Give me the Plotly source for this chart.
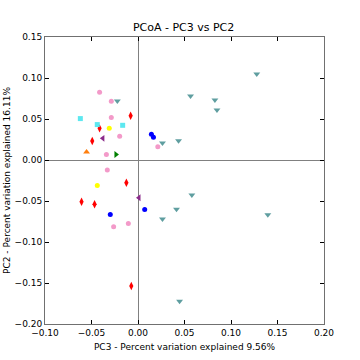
import plotly.graph_objects as go

# Groups: (x values, y values)
pink_x = [-0.0413, -0.0287, -0.0287, -0.0197, -0.0340, -0.0330, 0.0213, -0.0104, -0.0262]
pink_y = [0.0826, 0.0716, 0.0517, 0.0289, 0.0068, -0.0122, 0.0163, -0.0775, -0.0815]

teal_x = [-0.0222, 0.1277, 0.0565, 0.0827, 0.0849, 0.0263, 0.0436, 0.0579, 0.0414, 0.0263, 0.1396, 0.0447]
teal_y = [0.0720, 0.1050, 0.0782, 0.0733, 0.0611, 0.0208, 0.0236, -0.0428, -0.0600, -0.0721, -0.0669, -0.1724]

red_x = [-0.0079, -0.0413, -0.0492, -0.0125, -0.0607, -0.0467, -0.0072]
red_y = [0.0540, 0.0386, 0.0232, -0.0277, -0.0510, -0.0540, -0.1537]

cyan_x = [-0.0620, -0.0438, -0.0165]
cyan_y = [0.0505, 0.0432, 0.0423]

yellow_x = [-0.0309, -0.0438]
yellow_y = [0.0386, -0.0310]

blue_x = [0.0144, 0.0166, -0.0298, 0.0072]
blue_y = [0.0313, 0.0276, -0.0665, -0.0604]

purple_x = [-0.0378, 0.0011]
purple_y = [0.0264, -0.0460]

orange_x = [-0.0553]
orange_y = [0.0098]

green_x = [-0.0237]
green_y = [0.0068]

groups = [
    (pink_x, pink_y, "circle", "#f39ac9", 5),
    (teal_x, teal_y, "triangle-down", "#5f9ea0", 6),
    (red_x, red_y, "diamond-tall", "#ff0000", 6),
    (cyan_x, cyan_y, "square", "#5de8f0", 5),
    (yellow_x, yellow_y, "circle", "#ffff00", 5),
    (blue_x, blue_y, "circle", "#0000ff", 5),
    (purple_x, purple_y, "triangle-left", "#8b2b8b", 6),
    (orange_x, orange_y, "triangle-up", "#ff7f0e", 6),
    (green_x, green_y, "triangle-right", "#008000", 6),
]

fig = go.Figure()
for gx, gy, sym, col, sz in groups:
    fig.add_trace(go.Scatter(
        x=gx, y=gy, mode="markers",
        marker=dict(symbol=sym, color=col, size=sz, line=dict(width=0)),
        showlegend=False,
    ))

axis_common = dict(
    showgrid=False, automargin=False,
    showline=True, linecolor="#707070", linewidth=1, mirror="ticks",
    ticks="inside", ticklen=4, tickcolor="black", tickwidth=1,
    zeroline=True, zerolinecolor="#808080", zerolinewidth=1,
    tickfont=dict(family="DejaVu Sans", size=9, color="black"),
    title_font=dict(family="DejaVu Sans", size=9, color="black"),
)

fig.update_layout(
    width=360, height=360,
    margin=dict(l=45, r=36, t=37, b=36),
    plot_bgcolor="white", paper_bgcolor="white",
    title=dict(text="PCoA - PC3 vs PC2", x=0.51, xanchor="center",
               y=1 - 27 / 360, yanchor="middle", yref="container", automargin=False,
               font=dict(family="DejaVu Sans", size=11, color="black")),
    xaxis=dict(range=[-0.10, 0.20], tickvals=[-0.10, -0.05, 0.0, 0.05, 0.10, 0.15, 0.20],
               ticktext=["\u22120.10", "\u22120.05", "0.00", "0.05", "0.10", "0.15", "0.20"],
               title=dict(text="PC3 - Percent variation explained 9.56%", standoff=6),
               **axis_common),
    yaxis=dict(range=[-0.20, 0.15], tickvals=[-0.20, -0.15, -0.10, -0.05, 0.0, 0.05, 0.10, 0.15],
               ticktext=["\u22120.20", "\u22120.15", "\u22120.10", "\u22120.05", "0.00", "0.05", "0.10", "0.15"],
               title=dict(text="PC2 - Percent variation explained 16.11%", standoff=2),
               **axis_common),
)

fig.write_html("out.html", config={"displayModeBar": False},
               post_script="document.body.style.margin='0';document.body.style.overflow='hidden';")
